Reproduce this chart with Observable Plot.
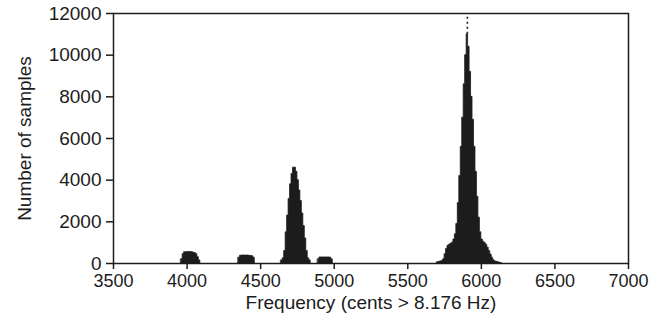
<!DOCTYPE html>
<html>
<head>
<meta charset="utf-8">
<script src="https://cdn.jsdelivr.net/npm/d3@7"></script>
<script src="https://cdn.jsdelivr.net/npm/@observablehq/plot@0.6"></script>
<style>
  html, body { margin: 0; padding: 0; background: #ffffff; }
  #chart { width: 657px; height: 322px; }
</style>
</head>
<body>
<div id="chart"></div>
<script>
// Histogram bin width (cents)
const binWidth = 10;

// Cluster near 4000 cents
const clusterAStart = 3960;
const clusterACounts = [200, 450, 540, 540, 550, 550, 550, 540, 520, 500, 450, 300, 150];

// Cluster near 4400 cents
const clusterBStart = 4350;
const clusterBCounts = [280, 370, 380, 380, 380, 380, 380, 370, 360, 350, 280];

// Main peak near 4740 cents
const clusterCStart = 4640;
const clusterCCounts = [150, 250, 600, 1500, 2300, 3100, 3800, 4300, 4600, 4600,
                        4400, 4000, 3500, 3000, 2400, 1800, 1200, 600, 250, 150];

// Cluster near 4940 cents
const clusterDStart = 4890;
const clusterDCounts = [200, 290, 290, 290, 290, 290, 290, 290, 280, 200];

// Main peak near 5905 cents
const clusterEStart = 5700;
const clusterECounts = [60, 80, 100, 120, 200, 450, 700, 850, 900, 950,
                        1000, 1150, 1400, 1900, 2900, 4200, 5600, 7000, 8600, 10000,
                        11000, 10400, 9200, 8000, 6900, 5600, 4400, 3200, 2200, 1500,
                        1150, 1050, 980, 900, 760, 600, 430, 280, 160, 100,
                        80, 60, 40, 20];

// Dotted marker above the highest peak
const markerCents = [5905];
const markerFrom = [11000];
const markerTo = [12000];

// Axis ticks and titles
const xTicks = [3500, 4000, 4500, 5000, 5500, 6000, 6500, 7000];
const yTicks = [0, 2000, 4000, 6000, 8000, 10000, 12000];
const xTitle = ["Frequency (cents > 8.176 Hz)"];
const yTitle = "Number of samples";

const clusters = [
  ["A", clusterAStart, clusterACounts],
  ["B", clusterBStart, clusterBCounts],
  ["C", clusterCStart, clusterCCounts],
  ["D", clusterDStart, clusterDCounts],
  ["E", clusterEStart, clusterECounts]
];
// Step outline points: each bin's left edge, plus the right edge of the last bin
const steps = [];
for (const [id, start, counts] of clusters) {
  counts.forEach((c, i) => steps.push({id, x: start + i * binWidth, y: c}));
  steps.push({id, x: start + counts.length * binWidth, y: counts[counts.length - 1]});
}
const markers = markerCents.map((c, i) => ({x: c, y1: markerFrom[i], y2: markerTo[i]}));

const ink = "#1c1c1c";

const chart = Plot.plot({
  width: 657,
  height: 322,
  marginLeft: 113,
  marginRight: 29,
  marginTop: 13,
  marginBottom: 59,
  style: {fontFamily: "'Liberation Sans', Arial, sans-serif", fontSize: "19px", color: ink, background: "#ffffff"},
  x: {domain: [3500, 7000]},
  y: {domain: [0, 12000]},
  marks: [
    Plot.areaY(steps, {x: "x", y: "y", z: "id", curve: "step-after", fill: ink, stroke: ink, strokeWidth: 0.8}),
    Plot.ruleX(markers, {x: "x", y1: "y1", y2: "y2", stroke: ink, strokeWidth: 1.6, strokeDasharray: "2,3"}),
    Plot.frame({stroke: ink, strokeWidth: 1.5}),
    Plot.axisX({ticks: xTicks, tickFormat: "d", tickSize: 6, tickPadding: 5, strokeWidth: 1.5,
                fontSize: 18, label: null}),
    Plot.text(xTitle, {frameAnchor: "bottom", dy: 45, lineAnchor: "bottom", text: d => d, fontSize: 19, fill: ink}),
    Plot.axisY({ticks: yTicks, tickFormat: "d", tickSize: 7, tickPadding: 5, strokeWidth: 1.5,
                label: yTitle, labelAnchor: "center", labelArrow: "none", labelOffset: 96})
  ]
});
document.getElementById("chart").appendChild(chart);
</script>
</body>
</html>
